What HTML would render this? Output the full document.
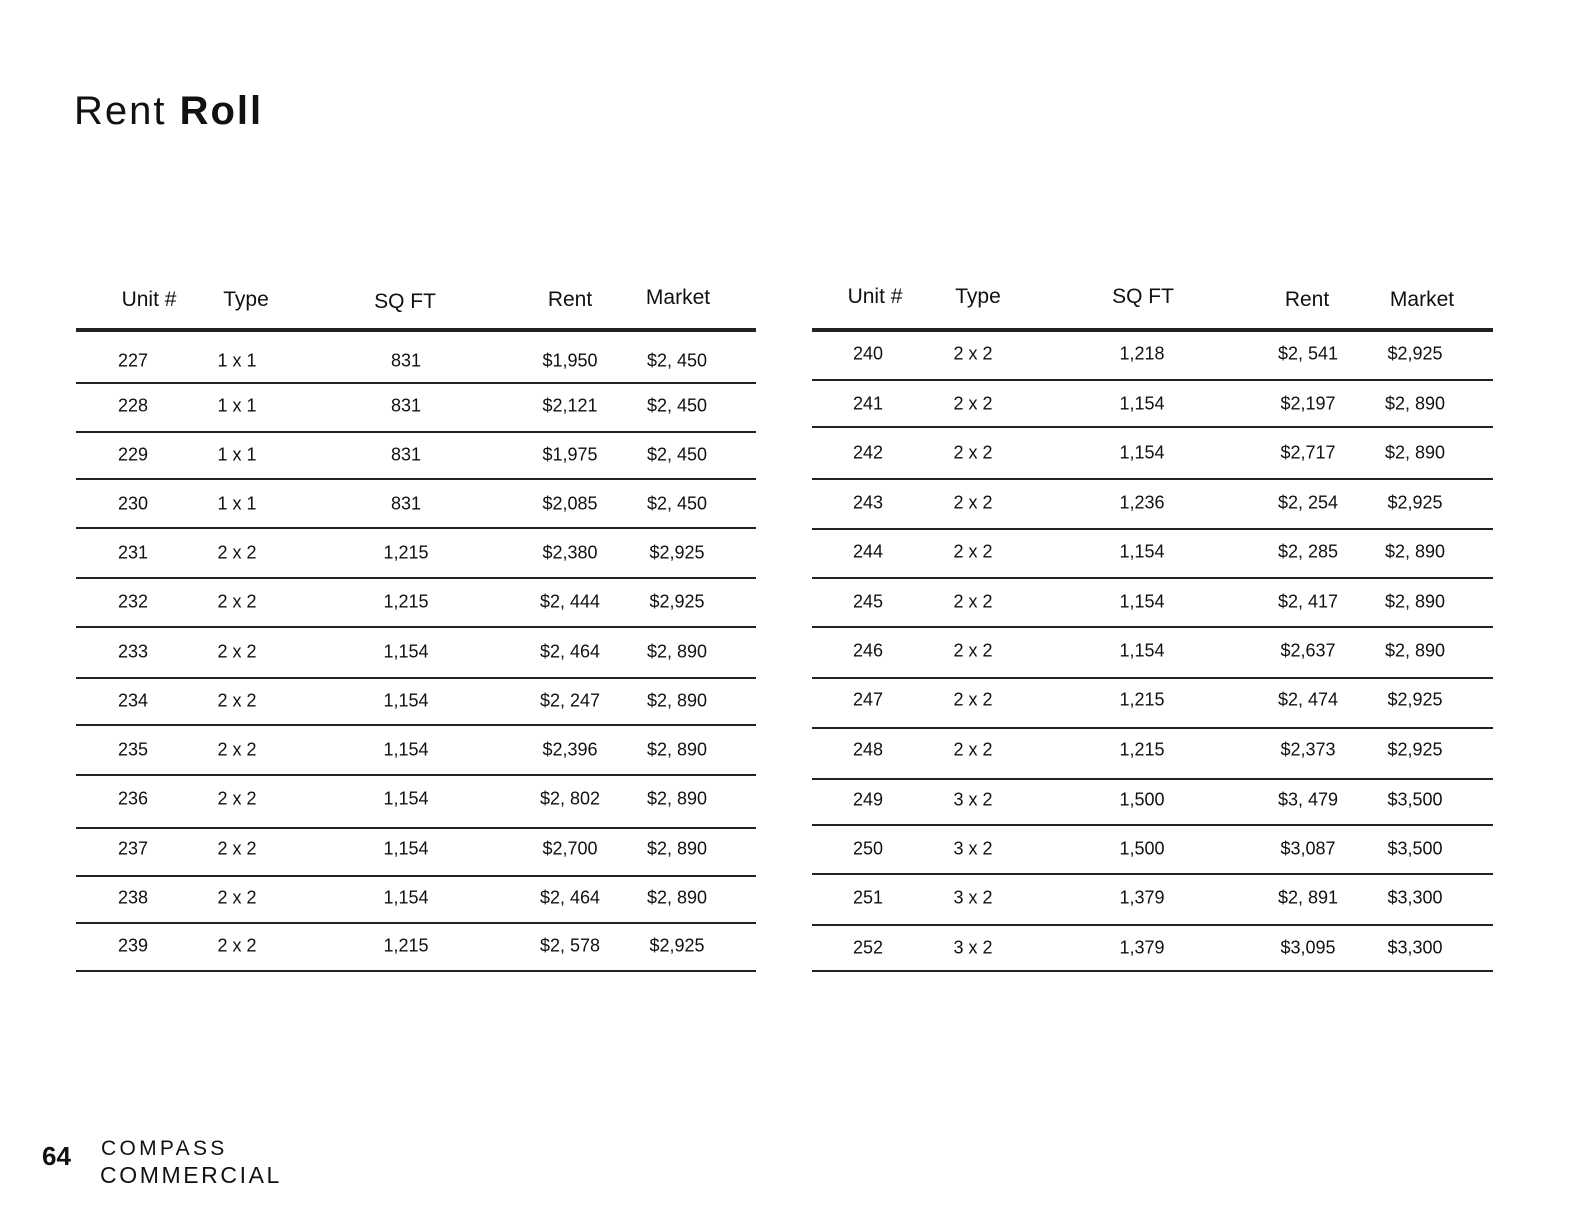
<!DOCTYPE html>
<html><head><meta charset="utf-8">
<style>
body{margin:0;background:#fff;}
#page{position:relative;width:1584px;height:1224px;overflow:hidden;background:#fff;font-family:"Liberation Sans",sans-serif;color:#111;}
.t{position:absolute;white-space:nowrap;transform:translate(-50%,-50%);}
.h{font-size:21px;font-weight:normal;}
.c{font-size:18px;}
.line{position:absolute;background:#222;}
</style></head>
<body>
<div id="page">
  <div style="position:absolute;left:74px;top:89px;font-size:40px;letter-spacing:2px;color:#111;">Rent <b>Roll</b></div>
  <div style="position:absolute;left:42px;top:1141px;font-size:26px;font-weight:bold;">64</div>
  <div style="position:absolute;left:101px;top:1137px;font-size:21px;letter-spacing:3.3px;">COMPASS</div>
  <div style="position:absolute;left:100px;top:1162px;font-size:23px;letter-spacing:2.6px;font-weight:300;">COMMERCIAL</div>
</div>
<script>
const headers = ["Unit #","Type","SQ FT","Rent","Market"];
const leftUnits = ["227","228","229","230","231","232","233","234","235","236","237","238","239"];
const leftTypes = ["1 x 1","1 x 1","1 x 1","1 x 1","2 x 2","2 x 2","2 x 2","2 x 2","2 x 2","2 x 2","2 x 2","2 x 2","2 x 2"];
const leftSqft = ["831","831","831","831","1,215","1,215","1,154","1,154","1,154","1,154","1,154","1,154","1,215"];
const leftRent = ["$1,950","$2,121","$1,975","$2,085","$2,380","$2, 444","$2, 464","$2, 247","$2,396","$2, 802","$2,700","$2, 464","$2, 578"];
const leftMarket = ["$2, 450","$2, 450","$2, 450","$2, 450","$2,925","$2,925","$2, 890","$2, 890","$2, 890","$2, 890","$2, 890","$2, 890","$2,925"];
const rightUnits = ["240","241","242","243","244","245","246","247","248","249","250","251","252"];
const rightTypes = ["2 x 2","2 x 2","2 x 2","2 x 2","2 x 2","2 x 2","2 x 2","2 x 2","2 x 2","3 x 2","3 x 2","3 x 2","3 x 2"];
const rightSqft = ["1,218","1,154","1,154","1,236","1,154","1,154","1,154","1,215","1,215","1,500","1,500","1,379","1,379"];
const rightRent = ["$2, 541","$2,197","$2,717","$2, 254","$2, 285","$2, 417","$2,637","$2, 474","$2,373","$3, 479","$3,087","$2, 891","$3,095"];
const rightMarket = ["$2,925","$2, 890","$2, 890","$2,925","$2, 890","$2, 890","$2, 890","$2,925","$2,925","$3,500","$3,500","$3,300","$3,300"];

const page = document.getElementById('page');
function txt(x,y,s,cls,name){
  const d=document.createElement('div');
  d.className='t '+cls;
  d.style.left=x+'px';d.style.top=y+'px';
  d.textContent=s;
  
  
  page.appendChild(d);
}
function line(x,y,w,h,name){
  const d=document.createElement('div');
  d.className='line';
  d.style.left=x+'px';d.style.top=y+'px';d.style.width=w+'px';d.style.height=h+'px';
  
  
  page.appendChild(d);
}
function table(prefix,x0,x1,colX,hdrY,rowY,lineY,cols){
  headers.forEach((h,i)=>txt(colX.h[i],hdrY[i],h,'h',prefix+'-header-'+h.toLowerCase().replace(/[^a-z]+/g,'-')));
  line(x0,328,x1-x0,4,prefix+'-header-rule');
  const names=['unit','type','sqft','rent','market'];
  for(let r=0;r<cols[0].length;r++){
    for(let c=0;c<5;c++) txt(colX.b[c],rowY[r],cols[c][r],'c',prefix+'-'+names[c]+'-'+cols[0][r]);
    line(x0,lineY[r],x1-x0,2,prefix+'-row-rule-'+cols[0][r]);
  }
}
table('left',76,756,{h:[149,246,405,570,678],b:[133,237,406,570,677]},[300,300,302,300,298],
  [361,406,455,504,553,602,652,701,750,799,849,898,946],
  [382,431,478,527,577,626,677,724,774,827,875,922,970],
  [leftUnits,leftTypes,leftSqft,leftRent,leftMarket]);
table('right',812,1493,{h:[875,978,1143,1307,1422],b:[868,973,1142,1308,1415]},[297,297,297,300,300],
  [354,404,453,503,552,602,651,700,750,800,849,898,948],
  [379,426,478,528,577,626,677,727,778,824,873,924,970],
  [rightUnits,rightTypes,rightSqft,rightRent,rightMarket]);
</script>
</body></html>
